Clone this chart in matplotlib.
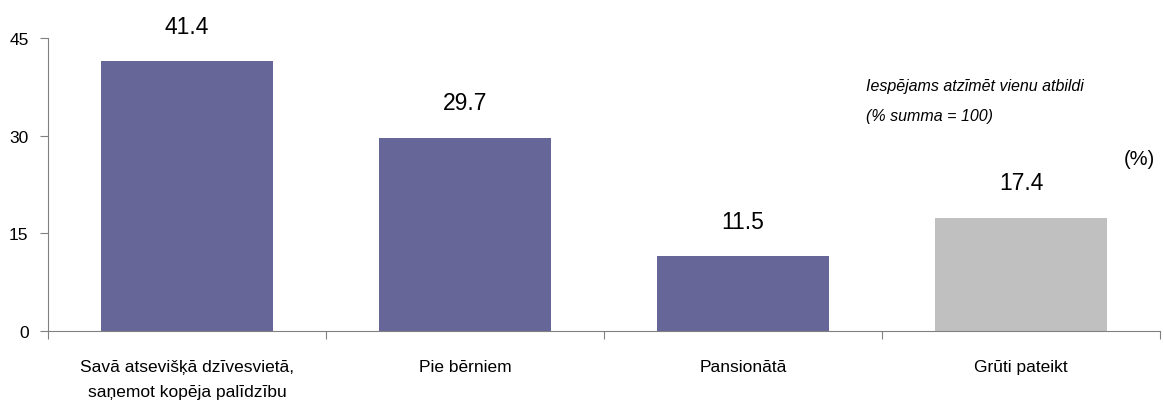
import matplotlib.pyplot as plt
import numpy as np

plt.rcParams['font.family'] = ['Liberation Sans', 'DejaVu Sans']

# dati
categories = ['Savā atsevišķā dzīvesvietā,\nsaņemot kopēja palīdzību',
              'Pie bērniem', 'Pansionātā', 'Grūti pateikt']
values = [41.4, 29.7, 11.5, 17.4]
colors = ['#666699', '#666699', '#666699', '#C0C0C0']
y_ticks = [0, 15, 30, 45]

fig = plt.figure(figsize=(11.64, 4.10), dpi=100)
ax = fig.add_axes([48 / 1164, 78 / 410, 1112 / 1164, 293 / 410])

x = np.arange(len(categories))
bars = ax.bar(x, values, width=0.62, color=colors, zorder=2)

for bar, v in zip(bars, values):
    ax.annotate(f'{v:.1f}', (bar.get_x() + bar.get_width() / 2, v),
                xytext=(0, 17), textcoords='offset points',
                ha='center', va='bottom', fontsize=16.5)

ax.set_xlim(-0.5, len(categories) - 0.5)
ax.set_ylim(0, 45)
ax.set_yticks(y_ticks)
ax.set_yticklabels([str(t) for t in y_ticks], fontsize=12.5)

# x ass: iedaļas starp kategorijām
ax.set_xticks(np.arange(len(categories) + 1) - 0.5)
ax.set_xticklabels([])
ax.set_xticks(x, minor=True)
ax.set_xticklabels(categories, minor=True, fontsize=12.5, linespacing=1.85)
ax.tick_params(axis='x', which='minor', length=0, pad=20)
ax.tick_params(axis='x', which='major', length=6, color='#808080', direction='out')
ax.tick_params(axis='y', length=6, color='#808080', direction='out', pad=8)

for s in ['top', 'right']:
    ax.spines[s].set_visible(False)
for s in ['left', 'bottom']:
    ax.spines[s].set_color('#808080')

fig.text(866 / 1164, 1 - 87 / 410, 'Iespējams atzīmēt vienu atbildi',
         fontsize=11.5, style='italic', va='center')
fig.text(866 / 1164, 1 - 117 / 410, '(% summa = 100)',
         fontsize=11.5, style='italic', va='center')
fig.text(1155 / 1164, 1 - 160 / 410, '(%)', fontsize=14.5, ha='right', va='center')

fig.savefig('out.png', dpi=100)
